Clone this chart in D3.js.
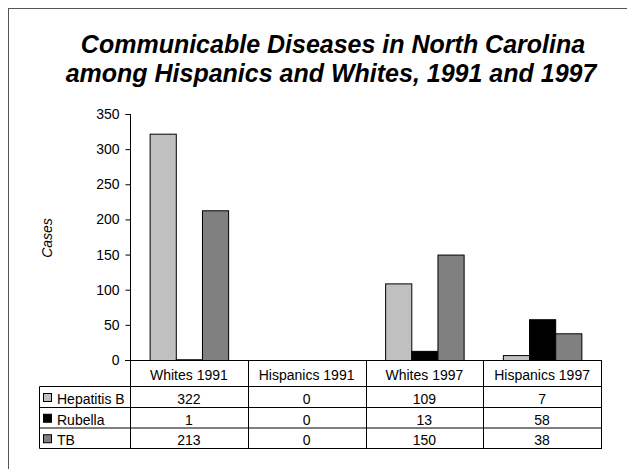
<!DOCTYPE html>
<html>
<head>
<meta charset="utf-8">
<script src="https://cdn.jsdelivr.net/npm/d3@7"></script>
<style>
  html, body { margin: 0; padding: 0; background: #fff; }
  svg { display: block; }
  svg text { font-family: "Liberation Sans", Arial, sans-serif; }
</style>
</head>
<body>
<svg id="chart" width="627" height="469"></svg>
<script>
// Reported cases by group and disease
const groups = ["Whites 1991", "Hispanics 1991", "Whites 1997", "Hispanics 1997"];
const diseases = ["Hepatitis B", "Rubella", "TB"];
const hepatitisB = [322, 0, 109, 7];
const rubella = [1, 0, 13, 58];
const tb = [213, 0, 150, 38];
const yTicks = [0, 50, 100, 150, 200, 250, 300, 350];
const colors = ["#c0c0c0", "#000000", "#808080"];

const seriesValues = [hepatitisB, rubella, tb];

const svg = d3.select("#chart");

// Outer chart frame (extends past the right and bottom edges)
svg.append("rect")
  .attr("x", 8.5).attr("y", 8.5)
  .attr("width", 700).attr("height", 600)
  .attr("fill", "none").attr("stroke", "#555").attr("stroke-width", 1);

// Title
const title = svg.append("text")
  .attr("text-anchor", "middle")
  .attr("font-size", 25)
  .attr("font-weight", "bold")
  .attr("font-style", "italic")
  .attr("fill", "#000");
title.append("tspan").attr("x", 333).attr("y", 53).text("Communicable Diseases in North Carolina");
title.append("tspan").attr("x", 331).attr("y", 82).text("among Hispanics and Whites, 1991 and 1997");

// Scales
const plotLeft = 130, plotRight = 601, plotTop = 114, plotBottom = 360;
const x = d3.scaleBand().domain(groups).range([plotLeft, plotRight]).padding(0);
const y = d3.scaleLinear().domain([0, 350]).range([plotBottom, plotTop]);
// Bars take 3 of 4.5 band units (gap width 150%)
const barW = x.bandwidth() / 4.5;
const inner = d3.scaleBand().domain(diseases)
  .range([barW * 0.75, barW * 3.75]).padding(0);

// Y axis
const yAxis = d3.axisLeft(y).tickValues(yTicks).tickSize(5).tickPadding(6);
const gy = svg.append("g").attr("transform", `translate(${plotLeft + 0.5},0)`).call(yAxis)
  .attr("font-family", null).attr("font-size", null);
gy.select(".domain").attr("d", `M-5,${plotTop + 0.5}H0V${plotBottom}`).attr("stroke", "#000");
gy.selectAll(".tick line").attr("stroke", "#000");
gy.selectAll(".tick text").attr("font-size", 14).attr("fill", "#000");

// Axis title
svg.append("text")
  .attr("transform", `translate(52,238) rotate(-90)`)
  .attr("text-anchor", "middle")
  .attr("font-size", 14)
  .attr("font-style", "italic")
  .attr("fill", "#000")
  .text("Cases");

// Bars
const barData = [];
groups.forEach((g, gi) => {
  diseases.forEach((d, di) => {
    barData.push({ group: g, disease: d, value: seriesValues[di][gi], color: colors[di] });
  });
});
svg.append("g").selectAll("rect")
  .data(barData.filter(d => d.value > 0))
  .join("rect")
  .attr("x", d => x(d.group) + inner(d.disease) + 0.5)
  .attr("y", d => y(d.value) + 0.5)
  .attr("width", inner.bandwidth())
  .attr("height", d => y(0) - y(d.value))
  .attr("fill", d => d.color)
  .attr("stroke", "#000")
  .attr("stroke-width", 1);

// Category baseline
svg.append("line")
  .attr("x1", plotLeft - 5).attr("x2", plotRight + 0.5)
  .attr("y1", plotBottom + 0.5).attr("y2", plotBottom + 0.5)
  .attr("stroke", "#000");

// Data table
const tableLeft = 39.5;
const rowEdges = [386.5, 407.5, 428, 448.5];
const table = svg.append("g").attr("stroke", "#000").attr("stroke-width", 1);

// vertical lines
const colEdges = groups.map(g => x(g)).concat([plotRight]);
colEdges.forEach(cx => {
  table.append("line").attr("x1", Math.round(cx) + 0.5).attr("x2", Math.round(cx) + 0.5)
    .attr("y1", plotBottom).attr("y2", rowEdges[3]);
});
table.append("line").attr("x1", tableLeft).attr("x2", tableLeft)
  .attr("y1", rowEdges[0]).attr("y2", rowEdges[3]);
// horizontal lines
rowEdges.forEach(ry => {
  table.append("line").attr("x1", tableLeft).attr("x2", plotRight + 1)
    .attr("y1", ry).attr("y2", ry);
});

// Header labels
svg.append("g").selectAll("text")
  .data(groups)
  .join("text")
  .attr("x", d => x(d) + x.bandwidth() / 2)
  .attr("y", 380)
  .attr("text-anchor", "middle")
  .attr("font-size", 14)
  .attr("fill", "#000")
  .text(d => d);

// Rows: legend key, name and values
diseases.forEach((name, di) => {
  const top = rowEdges[di], bottom = rowEdges[di + 1];
  const mid = (top + bottom) / 2;
  svg.append("rect")
    .attr("x", 43.5).attr("y", mid - 3.5)
    .attr("width", 8).attr("height", 8)
    .attr("fill", colors[di]).attr("stroke", "#000");
  svg.append("text")
    .attr("x", 57).attr("y", bottom - 3.5)
    .attr("font-size", 14).attr("fill", "#000")
    .text(name);
  svg.append("g").selectAll("text")
    .data(groups)
    .join("text")
    .attr("x", g => x(g) + x.bandwidth() / 2)
    .attr("y", bottom - 3.5)
    .attr("text-anchor", "middle")
    .attr("font-size", 14)
    .attr("fill", "#000")
    .text((g, gi) => seriesValues[di][gi]);
});
</script>
</body>
</html>
